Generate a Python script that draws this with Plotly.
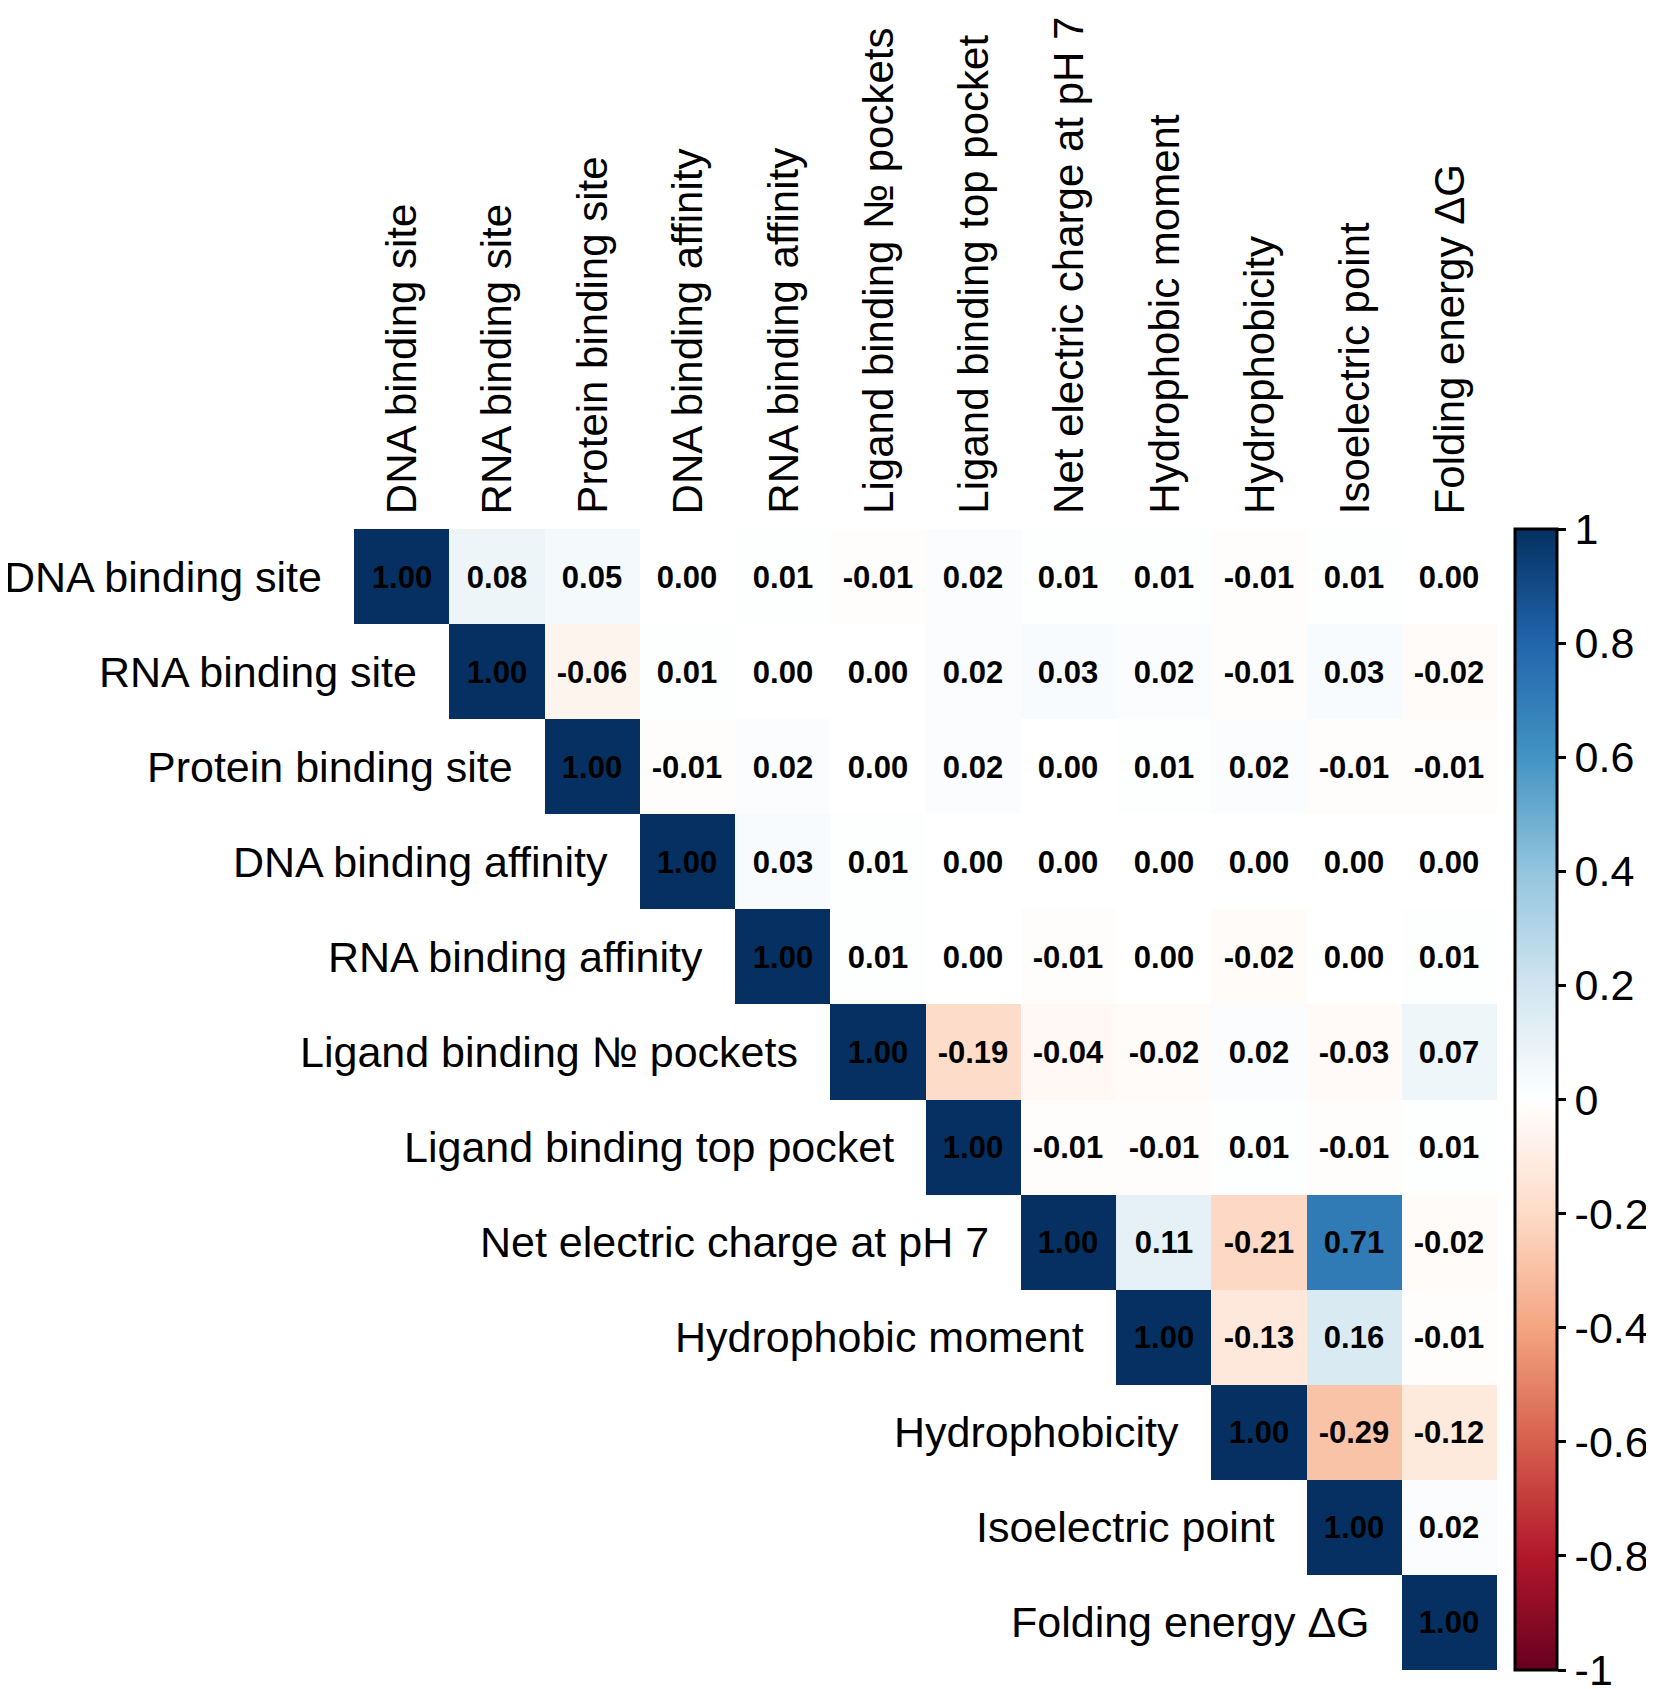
import plotly.graph_objects as go

# variable names (rows and columns)
labels = [
    "DNA binding site", "RNA binding site", "Protein binding site",
    "DNA binding affinity", "RNA binding affinity", "Ligand binding № pockets",
    "Ligand binding top pocket", "Net electric charge at pH 7",
    "Hydrophobic moment", "Hydrophobicity", "Isoelectric point",
    "Folding energy ΔG",
]

# upper triangle of the correlation matrix, row by row (from the diagonal)
row0 = [1.00, 0.08, 0.05, 0.00, 0.01, -0.01, 0.02, 0.01, 0.01, -0.01, 0.01, 0.00]
row1 = [1.00, -0.06, 0.01, 0.00, 0.00, 0.02, 0.03, 0.02, -0.01, 0.03, -0.02]
row2 = [1.00, -0.01, 0.02, 0.00, 0.02, 0.00, 0.01, 0.02, -0.01, -0.01]
row3 = [1.00, 0.03, 0.01, 0.00, 0.00, 0.00, 0.00, 0.00, 0.00]
row4 = [1.00, 0.01, 0.00, -0.01, 0.00, -0.02, 0.00, 0.01]
row5 = [1.00, -0.19, -0.04, -0.02, 0.02, -0.03, 0.07]
row6 = [1.00, -0.01, -0.01, 0.01, -0.01, 0.01]
row7 = [1.00, 0.11, -0.21, 0.71, -0.02]
row8 = [1.00, -0.13, 0.16, -0.01]
row9 = [1.00, -0.29, -0.12]
row10 = [1.00, 0.02]
row11 = [1.00]

cb_ticks = [1, 0.8, 0.6, 0.4, 0.2, 0, -0.2, -0.4, -0.6, -0.8, -1]
cb_text = ["1", "0.8", "0.6", "0.4", "0.2", "0", "-0.2", "-0.4", "-0.6", "-0.8", "-1"]

rows = [row0, row1, row2, row3, row4, row5, row6, row7, row8, row9, row10, row11]
n = len(labels)
z = [[None] * i + r for i, r in enumerate(rows)]
txt = [["" if v is None else f"{v:.2f}" for v in r] for r in z]

# corrplot RdBu palette
rdbu = ["#67001F", "#B2182B", "#D6604D", "#F4A582", "#FDDBC7", "#FFFFFF",
        "#D1E5F0", "#92C5DE", "#4393C3", "#2166AC", "#053061"]
cscale = [[i / 10, c] for i, c in enumerate(rdbu)]

FONT = "Liberation Sans, Arial, Helvetica, sans-serif"

fig = go.Figure()
fig.add_trace(go.Heatmap(
    z=z, x=list(range(n)), y=list(range(n)),
    text=txt, texttemplate="%{text}",
    textfont=dict(family=FONT, size=31, color="black", weight="bold"),
    colorscale=cscale, zmin=-1, zmax=1, hoverongaps=False,
    colorbar=dict(
        x=1.0157, xanchor="left", xpad=0, y=0.5, yanchor="middle", ypad=0,
        len=1, lenmode="fraction", thickness=42,
        outlinewidth=3, outlinecolor="black",
        ticks="outside", ticklen=8, tickwidth=3, tickcolor="black",
        tickvals=cb_ticks, ticktext=cb_text,
        tickfont=dict(family=FONT, size=43, color="black"),
    ),
))

# row labels next to the diagonal
for i, lab in enumerate(labels):
    fig.add_annotation(x=i - 0.5, y=i, xref="x", yref="y", text=lab,
                       showarrow=False, xanchor="right", yanchor="middle",
                       xshift=-30, font=dict(family=FONT, size=43, color="black"))
    # column labels on top, rotated
    fig.add_annotation(x=i, y=-0.5, xref="x", yref="y", text=lab,
                       showarrow=False, textangle=-90, xanchor="center",
                       yanchor="bottom", yshift=13,
                       font=dict(family=FONT, size=42, color="black"))

fig.update_xaxes(range=[-0.5, n - 0.5], visible=False)
fig.update_yaxes(range=[n - 0.5, -0.5], visible=False)
fig.update_layout(
    width=1654, height=1689,
    margin=dict(l=346, r=165, t=521, b=27, autoexpand=False),
    plot_bgcolor="white", paper_bgcolor="white",
    showlegend=False,
)

fig.write_html("out.html")
